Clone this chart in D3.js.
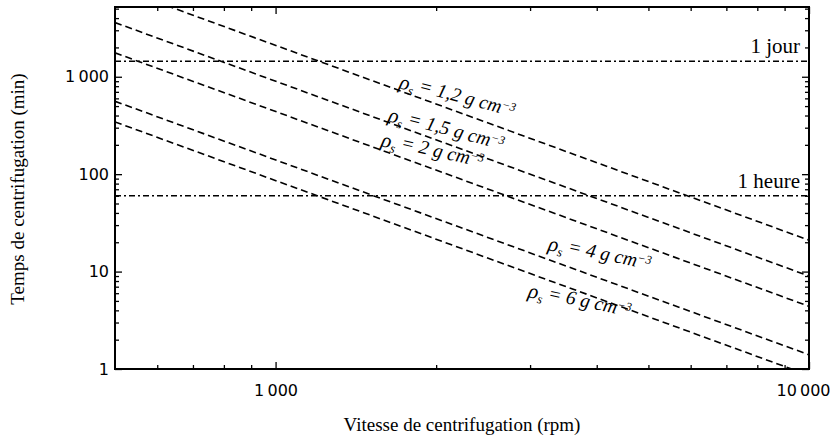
<!DOCTYPE html>
<html>
<head>
<meta charset="utf-8">
<script src="https://cdn.jsdelivr.net/npm/d3@7"></script>
<style>
  html, body { margin: 0; padding: 0; background: #fff; }
  svg { display: block; }
</style>
</head>
<body>
<svg id="chart" width="834" height="442"></svg>
<script>
// Centrifugation time versus rotor speed for several particle densities
const rpmEnds = [500, 10000];
const densityLabels = ["1,2", "1,5", "2", "4", "6"];
const timesAt500 = [8400, 3600, 1760, 560, 344];
const timesAt10000 = [21, 9.0, 4.4, 1.4, 0.86];

// Reference durations (minutes)
const refTimes = [1440, 60];
const refLabels = ["1 jour", "1 heure"];

// Axis ticks
const xMajor = [1000, 10000];
const xMajorLabels = ["1\u202F000", "10\u202F000"];
const xMinor = [600, 700, 800, 900, 2000, 3000, 4000, 5000, 6000, 7000, 8000, 9000];
const yMajor = [1, 10, 100, 1000];
const yMajorLabels = ["1", "10", "100", "1\u202F000"];
const yMinor = [2, 3, 4, 5, 6, 7, 8, 9, 20, 30, 40, 50, 60, 70, 80, 90,
                200, 300, 400, 500, 600, 700, 800, 900, 2000, 3000, 4000, 5000];

// Where each density label starts (rpm, minutes) and its tilt
const labelAnchors = [[1698, 767], [1619, 351], [1571, 195], [3232, 16.7], [2965, 5.5]];
const labelAngles = [15, 15, 13, 12, 12];

const svg = d3.select("#chart");
const plot = { left: 115, right: 809, top: 7, bottom: 369 };

const x = d3.scaleLog().domain([500, 10000]).range([plot.left, plot.right]);
const y = d3.scaleLog().domain([1, 5200]).range([plot.bottom, plot.top]);

const sansFont = "'DejaVu Sans', 'Liberation Sans', sans-serif";
const serifFont = "'Liberation Serif', 'Times New Roman', serif";

svg.append("defs").append("clipPath").attr("id", "plot-clip")
  .append("rect")
  .attr("x", plot.left).attr("y", plot.top)
  .attr("width", plot.right - plot.left).attr("height", plot.bottom - plot.top);

// Axes: ticks point inward on all four sides
function styleAxis(g) {
  g.select(".domain").remove();
  g.selectAll(".tick line").attr("stroke", "#000").attr("stroke-width", 1.3);
  g.selectAll(".tick text").attr("fill", "#000")
    .style("font-family", sansFont).style("font-size", "16px");
}

const xAxisMajor = svg.append("g").attr("transform", `translate(0,${plot.bottom})`)
  .call(d3.axisBottom(x).tickValues(xMajor).tickSizeInner(-7).tickSizeOuter(0)
    .tickPadding(16).tickFormat((d, i) => xMajorLabels[i]))
  .call(styleAxis);
// keep the right-hand label inside the page
xAxisMajor.selectAll(".tick text").filter(d => d === 10000).attr("dx", -6);

svg.append("g").attr("transform", `translate(0,${plot.bottom})`)
  .call(d3.axisBottom(x).tickValues(xMinor).tickSizeInner(-4).tickSizeOuter(0).tickFormat(""))
  .call(styleAxis);
svg.append("g").attr("transform", `translate(0,${plot.top})`)
  .call(d3.axisTop(x).tickValues(xMajor).tickSizeInner(-7).tickSizeOuter(0).tickFormat(""))
  .call(styleAxis);
svg.append("g").attr("transform", `translate(0,${plot.top})`)
  .call(d3.axisTop(x).tickValues(xMinor).tickSizeInner(-4).tickSizeOuter(0).tickFormat(""))
  .call(styleAxis);

svg.append("g").attr("transform", `translate(${plot.left},0)`)
  .call(d3.axisLeft(y).tickValues(yMajor).tickSizeInner(-7).tickSizeOuter(0)
    .tickPadding(6).tickFormat((d, i) => yMajorLabels[i]))
  .call(styleAxis);
svg.append("g").attr("transform", `translate(${plot.left},0)`)
  .call(d3.axisLeft(y).tickValues(yMinor).tickSizeInner(-4).tickSizeOuter(0).tickFormat(""))
  .call(styleAxis);
svg.append("g").attr("transform", `translate(${plot.right},0)`)
  .call(d3.axisRight(y).tickValues(yMajor).tickSizeInner(-7).tickSizeOuter(0).tickFormat(""))
  .call(styleAxis);
svg.append("g").attr("transform", `translate(${plot.right},0)`)
  .call(d3.axisRight(y).tickValues(yMinor).tickSizeInner(-4).tickSizeOuter(0).tickFormat(""))
  .call(styleAxis);

// Frame
svg.append("rect")
  .attr("x", plot.left).attr("y", plot.top)
  .attr("width", plot.right - plot.left).attr("height", plot.bottom - plot.top)
  .attr("fill", "none").attr("stroke", "#000").attr("stroke-width", 2);

const plotArea = svg.append("g").attr("clip-path", "url(#plot-clip)");

// Reference durations: dash-dot horizontals
plotArea.selectAll("line.ref").data(refTimes).join("line")
  .attr("class", "ref")
  .attr("x1", x(rpmEnds[0])).attr("x2", x(rpmEnds[1]))
  .attr("y1", d => y(d)).attr("y2", d => y(d))
  .attr("stroke", "#000").attr("stroke-width", 1.4)
  .attr("stroke-dasharray", "6,3,2,3");

svg.selectAll("text.ref").data(refTimes).join("text")
  .attr("class", "ref")
  .attr("x", plot.right - 9)
  .attr("y", d => y(d) - 8)
  .attr("text-anchor", "end")
  .style("font-family", serifFont).style("font-size", "21px")
  .text((d, i) => refLabels[i]);

// Density curves: dashed
const series = densityLabels.map((lab, i) => ({
  label: lab,
  points: [[rpmEnds[0], timesAt500[i]], [rpmEnds[1], timesAt10000[i]]]
}));
const line = d3.line().x(d => x(d[0])).y(d => y(d[1]));

plotArea.selectAll("path.series").data(series).join("path")
  .attr("class", "series")
  .attr("d", d => line(d.points))
  .attr("fill", "none").attr("stroke", "#000").attr("stroke-width", 1.6)
  .attr("stroke-dasharray", "7,4");

// Density labels along the curves
series.forEach((s, i) => {
  const [r, t] = labelAnchors[i];
  const txt = svg.append("text")
    .attr("transform", `translate(${x(r)},${y(t)}) rotate(${labelAngles[i]})`)
    .style("font-family", serifFont).style("font-style", "italic")
    .style("font-size", "19.5px");
  txt.append("tspan").style("font-size", "21px").text("\u03C1");
  txt.append("tspan").attr("dy", "0.3em").style("font-size", "13px").text("s");
  txt.append("tspan").attr("dy", "-0.3em").text(` = ${s.label} g cm`);
  txt.append("tspan").attr("dy", "-0.45em").style("font-size", "12px").text("\u22123");
});

// Axis titles
svg.append("text")
  .attr("x", (plot.left + plot.right) / 2).attr("y", 431)
  .attr("text-anchor", "middle")
  .style("font-family", serifFont).style("font-size", "19px")
  .text("Vitesse de centrifugation (rpm)");

svg.append("text")
  .attr("transform", `translate(24,${(plot.top + plot.bottom) / 2 + 1}) rotate(-90)`)
  .attr("text-anchor", "middle")
  .style("font-family", serifFont).style("font-size", "19px")
  .text("Temps de centrifugation (min)");
</script>
</body>
</html>
